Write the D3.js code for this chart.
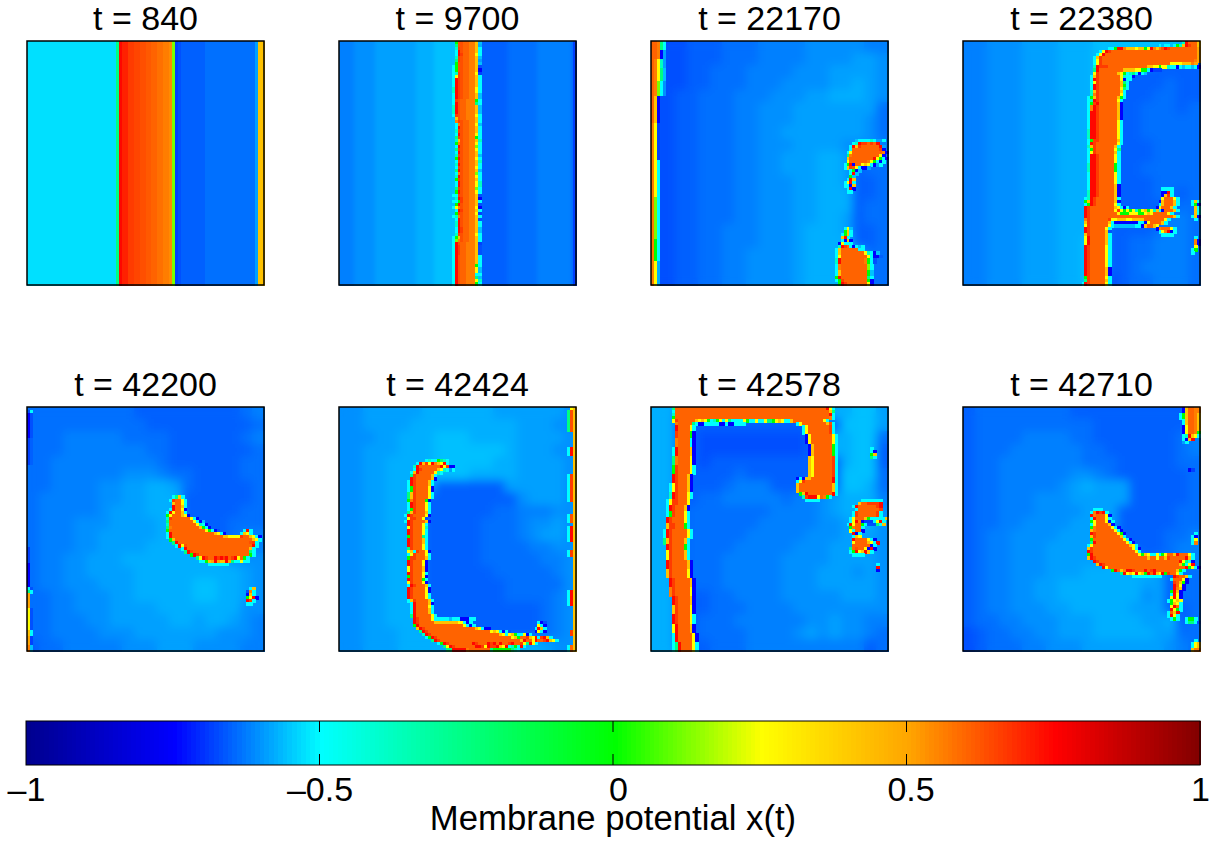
<!DOCTYPE html>
<html>
<head>
<meta charset="utf-8">
<script src="https://cdn.jsdelivr.net/npm/d3@7/dist/d3.min.js"></script>
<style>
  html, body { margin: 0; background: #fff; }
  text { font-family: "Liberation Sans", Arial, sans-serif; fill: #000; }
</style>
</head>
<body>
<svg id="chart" width="1214" height="843"></svg>
<script>
// Membrane potential snapshots on a 80 x 80 grid.
// Strings are run length coded: "3Oa" = O O O a. One letter = one level below.
const levelChars  = ['a','b','c','d','e','f','g','h','i','j','B','C','T','S','G','L','Y','A','P','K','Q','Z','O','X','M','W','N','V','R'];
const levelValues = [-.687,-.672,-.656,-.64,-.625,-.609,-.593,-.578,-.562,-.53,-.75,-.5,-.38,-.25,0,.12,.25,.42,.5,.54,.56,.58,.6,.615,.63,.645,.66,.7,.74];

const times = [840, 9700, 22170, 22380, 42200, 42424, 42578, 42710];
const colorStops  = [-1, -.75, -.5, 0, .25, .5, .75, 1];
const colorValues = ['#00008f','#0000ff','#00ffff','#00ff00','#ffff00','#ffa500','#ff0000','#800000'];
const barTicks = [-1, -.5, 0, .5, 1];
const barLabelShift = [0, 0, 5, 4, 0];

// backgrounds: rows of coarse blocks
const bg840 = ['30jSR2V2N2W2M2X2O2Z2QKLab8c17dg2A'];
const bg9700 = ['5e7f14g6h7i18c10d12ea'];
const bg22170 = [
  'bbbcccdddeeeefffffee','bbbcccdddeeeeffffggf','bbbccdddeeeefffggggf','bbbccdddeeeffffgghgf','bbccdddeeefffgghhhgf',
  'bbccdddeefffgggggggd','bbccdddeefffggggggfd','bbccdddeeffgggggggfd','bbccdddeefffggggfffe','bbccdddeeffggghhgddd',
  'bbccdddeeffggghhgcdd','bbccdddeefffgghhgccd','bbccdddeefffgghhhccd','bbccdddeefffgghhhcdd','bbccdddeefffgghhgcdd',
  'bbccddeeefffghhhgccd','bbccddeeefffghhhhccd','bbccddeeffffghhhhhdd','bbccddeeffffghhhhgdd','bbccddeeffffghhhhgdd'];
const bg22380 = [
  'eefffggghhhiiiiiiihh','eefffggghhhiiiiicccc','eefffggghhhicccccccc','eefffggghhhicccccdcc','eefffggghhhiccccddcc',
  'eefffggghhhicccdddcd','eefffggghhhicccddddd','eefffggghhhicccddddd','eefffggghhhiccccdddd','eefffggghhhiccccdddd',
  'eefffggghhhicccddddd','eefffggghhhiccccdddd','eefffggghhhiccccddcd','eefffggghhhiccccccdd','eefffggghhhiccccdeed',
  'eefffggghhhiccccdeed','eefffggghhiiccddeeed','eefffggghhiiccddeeed','eefffggghhiiccdeeeed','eefffggghhiibcddeeed'];
const bg42200 = [
  'dddddddddcccccccccde','ddddddddddcccccccccd','dddeeeeeddddccccccde','dddeeeeeeeddcccccccd','ddeeeeeeeeedccccccdd',
  'ddeeeeeefffeddccccdd','ddeeeeffgghhgdcccccd','deeeeeffgghhhccccccd','deeeeefggghhhcccccdd','deeefffgggghhccccddd',
  'deeeffggggghhhcccdee','deeeffgggghhhhhcddee','deeffggghhhhhhhhhfff','deeffgggghhhhhhhhhgf','deefffggghhhhhiihhgf',
  'ddeefffgghhhhhiihhgf','ddeefffgggghhhhhhhff','ddeeeffggggghhghhgfe','ddeeeefffgggggggfffe','cddeeeeefffgggffffee'];
const bg42424 = [
  'ffggggghhhhhhggggggf','ffgggghhhhhhhhhgggff','fffgghhhiiihhhhggggf','ffggghhhiiiiiihgggff','ffgghhhhiiiiihhggggf',
  'ffgghhhhiiihhhhggggf','ffgghhhhccccccgggggf','ffgghhhccccccccfgggf','ffgghhhccccccddeeeff','ffgghhhcccccdddeffgf',
  'ffgghhhcccccdddefggf','ffgghhhcccccddddeeff','ffgghhhcccccdddddeef','ffgghhhccccccdddddef','ffgghhhcccccccdddddf',
  'ffgghhhcccccccddddef','ffgghhhccccccccccdef','ffgghhhccccccccccdef','ffggghhhhhcccccccdef','ffggghhhhhhhhhhhhgff'];
const bg42578 = [
  'hhdddddddddddddhhiig','hhcccccccccccccciiig','hhccbbbbbbbbbcchhiid','hhccbbbbbbbbbcchhiic','hhccbccccccccccchiic',
  'hhcccccdcccccccciiid','hhccccdeeecccccciihd','hhccddeeeeedeefghhhe','hhcdddddddeeeefghhgf','hhcddddddeeeeeffghhf',
  'hhcdddddeeeeefffgggf','hhcddddeeeeefffggggf','hhcdddeeeeeffffggggf','hhcdddeeeeefffgggfgf','hhcdddeeeeefffgggggf',
  'hhcccddeeeefffffgggf','hhcccdddeeeeffffffff','hhccdddeeeeeeffgffee','hhccddddeeeefgfgffed','hhcccdddeeeeeeeeeecd'];
const bg42710 = [
  'cddddddddccccccccccd','cddddddddddccccccccd','cddddeeeeddcccccccde','cdddeeeeeeddccccccde','cddeeeeeeedddcccccdd',
  'cddeeeeeeffedccccccd','cddeeeeefghgggcccccd','cddeeefffgggggcccccd','cddeeeffffgggcccccdd','cddeeffffggggcccccdd',
  'cdeeffffggggcccccdde','cdeefffgggggcccccdee','cdeefffggggghhfcddee','cdeefffggghhhhhhgcdd','cdeeffgghhhhhhhggcdd',
  'cdeeffgghhhhhhhfgcdd','cdeefffgghhhhhgggccd','cddeefffggghhhhgghcd','bcddeeffggghhhhhggdd','bcdddeefffgggggggfed'];

// fronts: [first row, last row, first column, cells]
const front840 = [];
const front9700 = [
  [0,79,79,'a'],
  [0,0,38,'iG2M2O2QAi'],[1,1,38,'iS2M2O2QAh'],[2,2,38,'iTN1M2O2QAC'],[3,3,38,'iCRM2O2QAC'],[4,4,38,'iCRN2O2QYC'],
  [5,5,38,'iTNM2O2QAi'],[6,6,38,'iSNM2O2QAg'],[7,7,38,'iG2M2O2QAi'],[8,8,38,'CG2M2O2QAb'],[9,9,38,'CG2M2O2QAB'],
  [10,10,38,'CTN1M2O2QYa'],[11,11,38,'CYN1M2O2QAC'],[12,14,38,'CRN1M2O2QAC'],[15,16,38,'TRN1M2O2QYC'],[17,18,38,'CRN1M2O2QAi'],
  [19,19,38,'CNM2O3QGC'],[20,20,38,'CRM2O3QSC'],[21,23,38,'TRM2O3QAi'],[24,24,38,'CNM2O3QYC'],[25,25,38,'iAM2O3QAC'],
  [26,26,38,'iQNM2O2QAC'],[27,27,38,'iCQM2O2QYi'],[28,28,38,'iCRM2O2QAC'],[29,29,38,'iTNM2O2QAC'],[30,30,38,'iCRM2O2QYC'],
  [31,31,38,'iSNM2O2QGC'],[32,32,38,'iTAM2O2QAT'],[33,33,38,'iGQM2O2QYC'],[34,34,38,'iCRM2O2QLC'],[35,35,38,'iSNM2O2QYC'],
  [36,36,38,'iCRM2O2QAC'],[37,37,38,'iTNM2O2QAi'],[38,38,38,'iGRM2O2QYC'],[39,39,38,'iCNM2O2QAT'],[40,40,38,'iTRM2O2QAC'],
  [41,41,38,'iCNM2O2QYC'],[42,42,38,'iSRM2O2QAi'],[43,43,38,'iCQM2O2QLC'],[44,44,38,'iTRM2O2QYC'],[45,45,38,'iGNM2O2QAC'],
  [46,47,38,'iCRM2O2QYT'],[48,48,38,'iSNM2O2QLC'],[49,49,38,'iGRM2O2QYC'],[50,50,38,'CCNM2O2QAb'],[51,51,38,'iTRN2O2QAB'],
  [52,52,38,'CCGN2O2QAC'],[53,53,38,'iGRM2O2QAb'],[54,54,38,'CYQM2O2QYB'],[55,55,38,'iCRN2O2QAC'],[56,56,38,'iGNM2O2QYa'],
  [57,57,38,'CTQM2O2QAC'],[58,58,38,'iCRM2O2QAb'],[59,60,38,'iTRM2O2QAC'],[61,62,38,'iCRN2O2QAi'],[63,63,38,'iTNM2O2QYC'],
  [64,64,38,'CGAM2O2QAC'],[65,65,38,'CLQM2O2QAC'],[66,66,38,'CRM2O3QAa'],[67,69,38,'CRN2O3QAb'],[70,72,38,'CRM2O3QAC'],
  [73,73,38,'CRM2O3QGC'],[74,75,38,'CRM2O3QYi'],[76,76,38,'CRM2O3QCC'],[77,77,38,'CRM2O3QSi'],[78,78,38,'CRM2O3QYT'],[79,79,38,'CRM2O3QGC']
];
const front22170 = [
  [0,2,0,'2OQSC'],[3,5,0,'2OQBg'],[6,8,0,'OQYTg'],[9,12,0,'OQYSi'],[13,17,0,'OQLCf'],
  [18,26,0,'OAB'],[27,38,0,'QYa'],[39,50,0,'QYC'],[51,64,0,'QLC'],[65,71,0,'QGC'],[72,79,0,'QYh'],
  [32,32,69,'i4CTC2gC'],[33,33,68,'CTR2NONOR'],[34,34,67,'CRAN6ORg'],[35,35,67,'C9ONB'],[36,36,66,'CY10OQB'],
  [37,37,66,'SQ9OYB'],[38,38,66,'A8ORYGCB'],[39,39,66,'Y6OQYGCBC'],[40,40,65,'CGRB2OYAYCBgC'],[41,41,65,'CANMYCBBg'],
  [42,42,67,'CGBi'],[43,43,67,'CRi'],[44,44,67,'Gi'],[45,45,66,'CRA'],[46,46,65,'CYRC'],[47,47,65,'CCBA'],[48,48,66,'CRB'],[49,49,66,'CC'],
  [61,61,65,'CYi'],[62,62,65,'GAC'],[63,63,64,'CGAC'],[64,64,64,'ARC'],[65,65,64,'CBAB'],[66,66,63,'BYCCC'],
  [67,67,63,'TRNOCBCiC'],[68,68,62,'CA6OCC'],[69,69,62,'CA8OYTCBi'],[70,70,62,'CY9OYC2Bc'],[71,72,62,'TR8OQGCb'],
  [73,74,62,'CQ9OLC'],[75,76,62,'CA9OGi'],[77,77,62,'GR9OSC'],[78,78,62,'CGN8OGB'],[79,79,63,'GRN7OYB']
];
const front22380 = [
  [0,0,74,'TR3OA'],[1,1,66,'CiCCiCGTARNOOA'],[2,2,49,'CCGRRQ3AY2AGYRQAQMRN9OP'],[3,3,46,'CYRN29OP'],[4,4,45,'CYR31OP'],
  [5,5,44,'CAN32OP'],[6,6,44,'CYN31OQP'],[7,7,44,'CYN23O4Y3AQP'],[8,8,44,'TR3N13O2A2YG2YTCCBCiCCiCBC'],[9,9,44,'SR8O4A2Y2GCB3a'],
  [10,10,44,'YN6OAYGCTSCBCi'],[11,11,43,'CAN7OYTCCB'],[12,12,43,'CRN7OYBCC'],[13,13,43,'CYN7OASC'],[14,14,43,'CRN7OAGC'],
  [15,15,43,'CRN7OYSC'],[16,16,43,'TAN7OAC'],[17,17,43,'TQN7OYC'],[18,18,42,'CGAN6OAGC'],[19,19,42,'CTRN6OYC'],
  [20,20,42,'CGNR6OAB'],[21,22,42,'CQRN6OAB'],[23,25,42,'CRRN6OAB'],[26,28,42,'CRRN6OYC'],[29,31,42,'TRRN6OYC'],
  [32,32,42,'CG2N6OAC'],[33,33,42,'CRN7OYC'],[34,34,42,'TAN6OAC'],[35,35,42,'CGN6OYS'],[36,36,42,'CYN6OAC'],
  [37,39,42,'CRRN5OYC'],[40,42,42,'TRRN5OGC'],[43,46,42,'CRRN5OYC'],[47,48,42,'CRRN5OAB'],[49,50,42,'TRRN5OAB'],
  [51,51,41,'CTRN6OAC'],[52,52,41,'GARN6OAB'],[53,53,41,'CGRN6OYC'],
  [49,49,67,'BBRC'],[48,48,67,'4C'],[50,50,67,'BANC'],[51,51,67,'Y3OYC'],[52,52,66,'BA3OAC'],[53,53,66,'CA3OAC'],
  [54,54,41,'RN8OAYCBC'],[54,54,65,'BY3OAC'],[55,55,41,'RN8OYNYGYGYTGYAGYTACB3OAC'],[56,56,41,'RN9OY3G3Y2GYAY5OYC'],
  [57,57,41,'RN28OAC'],[58,58,41,'QN6ON2Y3A2Y4A7OYC'],[59,59,41,'AN6OACB7B2CBY4OAC'],[60,60,41,'YN6OYC7iCCBAOOAY'],
  [61,61,41,'RN5OYC'],[61,61,65,'BQ3OYC'],[62,62,41,'RN5OAb'],[62,62,66,'CYQRBC'],[63,63,41,'AN5OAC'],[63,63,67,'CCCC'],
  [64,66,41,'YR5OAC'],[67,70,41,'RN5OYC'],[71,73,41,'RN5OYC'],[74,75,41,'RN5OAB'],[76,76,41,'RN5OAB'],[77,77,41,'GN5OYC'],[78,78,41,'SN5OAC'],[79,79,40,'CRN5OYC'],
  [52,52,77,'CAC'],[53,53,77,'CGB'],[54,56,78,'AC'],[57,57,77,'CAB'],[58,58,78,'C'],[64,64,78,'C'],[65,66,78,'QB'],[67,67,78,'Y'],[68,68,77,'CG'],[69,69,77,'C']
];
const front42200 = [
  [1,1,0,'bC'],[2,9,0,'Bb'],[10,18,0,'ac'],[46,50,0,'a'],[51,58,0,'B'],[59,59,0,'Cb'],[60,60,0,'SC'],
  [61,65,0,'P'],[66,72,0,'Yb'],[73,74,0,'AC'],[75,77,0,'Pa'],[78,79,0,'Qi'],
  [29,29,49,'CSAC'],[30,30,48,'CN2OYC'],[31,31,49,'A2OYC'],[32,32,49,'R2OAC'],[33,33,48,'CR2OYB'],[34,34,47,'CRY2OAC'],
  [35,35,47,'GY3OAYB'],[36,36,47,'TN6OYCB'],[37,37,47,'SO7OYCBi'],[38,38,47,'TO8OYTCB'],[39,39,47,'SQ9OAGCB'],
  [40,40,47,'GO11OYGCBb'],[40,40,73,'CRC'],[41,41,47,'CR14OAYCB'],[41,41,72,'CAYC'],[42,42,47,'CR17O2A4YN2OAYCB'],
  [43,43,48,'GA26OAYC'],[44,44,49,'SR24OMNC'],[45,45,50,'CRYM22ORC'],[46,46,52,'CR21OAC'],[47,47,53,'SRM19OSC'],
  [48,48,55,'GRN17OGC'],[49,49,57,'SYRN2ORNRNRONRYOGC'],[50,50,58,'CCGAPRPAARPSCCYCC'],[51,51,61,'7C'],
  [59,59,75,'CA'],[60,60,74,'bQC'],[61,61,74,'BAC'],[62,62,74,'GYRB'],[63,63,74,'RNC'],[64,64,74,'CC']
];
const front42424 = [
  [0,0,78,'YA'],[1,7,77,'SMA'],[8,12,79,'A'],[13,15,77,'CRA'],[16,21,79,'A'],[22,30,77,'CNA'],[31,34,79,'A'],[35,37,77,'CMA'],[38,38,79,'A'],
  [39,43,77,'CRA'],[44,46,79,'A'],[47,48,77,'CNA'],[49,59,79,'A'],[60,64,77,'CRA'],[65,72,79,'A'],[73,74,78,'NA'],[75,77,79,'A'],[78,79,77,'COA'],
  [17,17,29,'CTCCGSTC'],[18,18,26,'CRANYRQAYRC'],[19,19,25,'TR7ORYNBB'],[20,20,25,'CRN5OAYTCgC'],[21,21,24,'CAR5OYTC'],[22,22,24,'SN5OAC'],[23,23,24,'RN5OAB'],
  [24,25,23,'CRN4OAC'],[26,27,23,'CGN4OYB'],[28,29,23,'SAN4OYC'],[30,30,23,'GQN3OGB'],[31,32,23,'CRN3OYC'],[33,33,23,'CGN3OYC'],[34,34,23,'SAN3OAC'],
  [35,35,22,'CRN4OYB'],[36,36,23,'YNN2OYb'],[37,37,22,'CRN4OAB'],[38,38,23,'RN3OYC'],[39,39,23,'YN3OYT'],[40,41,23,'RN3OYC'],[42,42,23,'GN3OSC'],
  [43,44,23,'RN3OAC'],[45,45,23,'RN3OYC'],[46,46,23,'SN3OYC'],[47,47,23,'YACN2OYB'],[48,48,23,'CYN3OYC'],[49,49,23,'GNN3OAC'],[50,51,23,'RN3OYB'],
  [52,53,23,'YN3OAB'],[54,54,23,'RN3OYC'],[55,55,23,'GN3OYB'],[56,56,23,'RN3OGC'],[57,57,23,'YN3OYB'],[58,58,23,'CRN3OAC'],[59,60,23,'RN4OYB'],
  [61,62,23,'RN4OYC'],[63,63,23,'CAN4OAC'],[64,64,24,'CR4OAB'],[65,65,24,'CR4OYC'],[66,67,24,'CR4OAC'],[68,68,24,'SR5OYC'],[69,69,25,'RN4OYC4CiC2C3BCC'],
  [70,70,25,'RN5O8AYYCBC'],[70,70,67,'CBb'],[71,71,25,'GR15OYCBC'],[71,71,67,'YCB'],[72,72,26,'ARN17OAYCBB'],[72,72,66,'CRAC'],
  [73,73,27,'SRN21OYAYCBCb'],[73,73,66,'BYCB'],[74,74,28,'TRN23OAYCYAGCCYBC'],[75,75,29,'CGRN25OYAG2ONAYRCNRAC'],[76,76,31,'SRN27OAR2OYR2ONRAYC'],
  [77,77,33,'CGRN8ORN3ORNROR2ONR2ONYSRYC'],[78,78,35,'SYRN7O2RNYR2NRAYRCTGCRC'],[79,79,36,'SS5RQ7OS6GSTC']
];
const front42578 = [
  [0,0,7,'S51ORYC'],[1,1,7,'C52OAS'],[2,2,7,'T52ORC'],[3,3,7,'G52OQC'],
  [4,4,7,'YN6OAYAYGCTGYCYSCCCCYGCCYCCYSSGYAYCCA10OYC'],[5,5,8,'Q5OSCC'],[5,5,16,'BBCCCCCBBCBBCCCC'],[5,5,49,'CY8OAMC'],
  [6,7,8,'R4OYC'],[8,9,8,'N4OGB'],[10,12,8,'Q4OCB'],[13,15,7,'CR4OAB'],[16,18,7,'SQ4OYB'],[19,21,7,'GN4OYC'],
  [6,8,51,'CY7ONC'],[9,11,52,'BY7OYC'],[12,15,53,'BA6OGC'],[16,22,53,'AY6ONC'],
  [22,24,7,'RN3OAB'],[25,27,6,'CYN3OAB'],[28,29,6,'TRN3OYC'],[30,31,5,'CYNN3OY'],[32,33,5,'CRN3OAB'],[34,35,5,'CGN3OYC'],
  [23,23,49,'BCB2A7ORC'],[24,24,49,'CYN9ORC'],[25,27,49,'A11OAC'],[28,28,50,'GAR8ORC'],[29,29,51,'TN3RYOQGC'],[30,30,52,'5C'],
  [36,37,5,'RN4OYC'],[38,39,5,'ANN3OGC'],[40,42,4,'CRN5OYC'],[43,44,4,'SAN4OAC'],[45,46,5,'RN4OGC'],[47,49,5,'YN4OAC'],
  [50,52,5,'RN5OAB'],[53,55,5,'AN5OYB'],[56,58,6,'RN5OAB'],[59,61,6,'QN5OYB'],[62,64,7,'RN4OAB'],[65,67,7,'AN4OYB'],
  [68,70,7,'RN4OYC'],[71,73,7,'YR4OAB'],[74,76,7,'CR5OYB'],[77,79,7,'CSR4OYC'],
  [30,30,71,'7C'],[31,31,70,'A2O4NR'],[32,32,68,'CR6ONR'],[33,33,69,'C7ON'],[34,35,68,'CN6ONC'],[36,36,67,'CY3OAGC4CAC'],[37,37,67,'CYRQB3aCYRC'],
  [38,38,66,'CRY2OGC3bSCA'],[39,39,67,'GQ2OC'],[40,40,67,'YC2OB'],[41,41,68,'RBC'],[42,42,68,'CAY'],[43,43,68,'R4OYCB'],[44,44,68,'Y4OAYCR'],
  [45,45,68,'6OBC'],[46,46,67,'SOM2OYBRB'],[47,47,67,'CGRYARAC'],[48,48,68,'4C'],
  [13,13,74,'C'],[14,14,74,'CB'],[15,15,74,'GA'],[16,16,74,'SC'],[51,51,76,'C'],[52,52,76,'R'],[53,53,76,'B']
];
const front42710 = [
  [0,1,74,'BA2O2QA'],[2,3,73,'CGA2OQA'],[4,5,74,'CA2OQA'],[6,7,74,'BY2OQA'],[8,8,74,'BY2OQG'],[9,9,74,'CTRAYC'],[10,10,74,'CBAR'],[11,11,74,'gC'],
  [20,20,76,'Ba'],[41,41,78,'C'],[42,42,77,'CB'],[43,43,77,'CY'],[44,44,77,'CQ'],[76,76,78,'C'],[77,78,77,'CYA'],[79,79,77,'A2Q'],
  [33,33,44,'CCC'],[34,34,43,'CQRNRC'],[35,35,43,'RQ3OYB'],[36,36,43,'CR3OYC'],[37,37,43,'GY3OYBC'],[38,38,43,'CY4OAB'],[39,39,43,'GQ5OYCB'],
  [40,40,43,'AQ6OYCB'],[41,41,43,'RN7OYGB'],[42,42,43,'AN8OAC'],[43,43,43,'GO9OYCB'],[44,44,43,'SR10OYCB'],[45,45,42,'CY12OAYC'],[46,46,42,'AN13OYCB'],
  [47,47,42,'RN14OYC'],[48,48,42,'GR15OYGAYCCYCGY2OAR3OYC'],[49,49,42,'ARN17OA2OY2OAN5ORAC'],[50,50,44,'RN27ORYSCB'],[51,51,45,'ARN25OAGCYR'],
  [52,52,47,'RY26ORGYCB'],[53,53,50,'GROAQ2RN3ORONR7OAGC'],[54,54,53,'SRYAYRYAGRORAYRGN2OYC'],[55,55,57,'10C'],[55,55,71,'RN2OAC'],
  [56,56,70,'C3OYB'],[57,57,71,'NOAGB'],[58,58,71,'ROYB'],[59,59,71,'RQAB'],[60,60,70,'GRAB'],[61,61,70,'CRYB'],[62,62,70,'YRYB'],[63,63,69,'CGYAY'],
  [64,64,70,'GAYC'],[65,65,70,'YROC'],[66,66,70,'RYGC'],[67,67,69,'COAR'],[68,68,69,'CRYC'],[69,69,70,'CGC'],[69,69,75,'CGGC'],[70,70,75,'C2SCb']
];

const backgrounds = [bg840, bg9700, bg22170, bg22380, bg42200, bg42424, bg42578, bg42710];
const fronts = [front840, front9700, front22170, front22380, front42200, front42424, front42578, front42710];

const gridSize = 80;
const panelW = 237, panelH = 244;
const panelLeft = [27, 339, 651, 963];
const panelTop = [41, 407];
const bgSoften = [0, 2, 5, 5, 5, 5, 5, 5]; // the potential varies smoothly away from the front

const svg = d3.select('#chart');
const defs = svg.append('defs');
const color = d3.scaleLinear().domain(colorStops).range(colorValues);
const levelOf = new Map(levelChars.map((c, i) => [c, levelValues[i]]));

function unpack(s) {
  const out = [];
  for (const m of s.matchAll(/(\d*)(\D)/g)) {
    const n = m[1] === '' ? 1 : +m[1];
    for (let i = 0; i < n; i++) out.push(m[2]);
  }
  return out;
}

times.forEach((t, p) => {
  const g = svg.append('g')
    .attr('transform', `translate(${panelLeft[p % 4]},${panelTop[p < 4 ? 0 : 1]})`);

  defs.append('clipPath').attr('id', 'clip' + p)
    .append('rect').attr('width', panelW).attr('height', panelH);
  defs.append('filter').attr('id', 'soft' + p)
    .attr('x', '-10%').attr('y', '-10%').attr('width', '120%').attr('height', '120%')
    .append('feGaussianBlur').attr('stdDeviation', bgSoften[p]);

  // coarse background blocks
  const bgRows = backgrounds[p].map(unpack);
  const bgY = d3.scaleBand().domain(d3.range(bgRows.length)).range([0, panelH]);
  const bgX = d3.scaleBand().domain(d3.range(bgRows[0].length)).range([0, panelW]);
  const bgCells = bgRows.flatMap((row, r) => row.map((c, k) => ({ r, k, c })));

  const drawBg = sel => sel.selectAll('rect').data(bgCells).join('rect')
    .attr('x', d => bgX(d.k))
    .attr('y', d => bgY(d.r))
    .attr('width', bgX.bandwidth() + .5)
    .attr('height', bgY.bandwidth() + .5)
    .attr('fill', d => color(levelOf.get(d.c)));

  drawBg(g.append('g').attr('shape-rendering', 'crispEdges'));
  if (bgSoften[p] > 0) {
    g.append('g').attr('clip-path', `url(#clip${p})`)
      .append('g').attr('filter', `url(#soft${p})`).attr('shape-rendering', 'crispEdges')
      .call(drawBg);
  }

  // wave front cells on the fine grid
  const x = d3.scaleLinear().domain([0, gridSize]).range([0, panelW]);
  const y = d3.scaleLinear().domain([0, gridSize]).range([0, panelH]);
  const cells = [];
  fronts[p].forEach(([r0, r1, col, s]) => {
    const row = unpack(s);
    for (let r = r0; r <= r1; r++) {
      row.forEach((c, k) => {
        if (col + k < gridSize) cells.push({ r, k: col + k, c });
      });
    }
  });
  g.append('g').attr('shape-rendering', 'crispEdges')
    .selectAll('rect').data(cells).join('rect')
    .attr('x', d => x(d.k))
    .attr('y', d => y(d.r))
    .attr('width', x(1) + .5)
    .attr('height', y(1) + .5)
    .attr('fill', d => color(levelOf.get(d.c)));

  g.append('rect')
    .attr('width', panelW).attr('height', panelH)
    .attr('fill', 'none').attr('stroke', '#000').attr('stroke-width', 1.5);

  g.append('text')
    .attr('x', panelW / 2).attr('y', -11)
    .attr('text-anchor', 'middle')
    .style('font-size', '34px')
    .text('t = ' + t);
});

// colorbar
const barX = d3.scaleLinear().domain([-1, 1]).range([26, 1200]);
const barTop = 721, barH = 44;
const barSteps = d3.range(-1, 1, 2 / 256);
svg.append('g').attr('shape-rendering', 'crispEdges')
  .selectAll('rect').data(barSteps).join('rect')
  .attr('x', d => barX(d))
  .attr('y', barTop)
  .attr('width', barX(-1 + 2 / 256) - barX(-1) + .6)
  .attr('height', barH)
  .attr('fill', d => color(d));

const fmt = d => String(d).replace('-', '\u2013');
const axis = svg.append('g')
  .attr('transform', `translate(0,${barTop + barH})`)
  .call(d3.axisBottom(barX).tickValues(barTicks).tickSize(0).tickPadding(12).tickFormat(fmt));
axis.select('.domain').remove();
axis.selectAll('text')
  .style('font-size', '34px')
  .attr('fill', '#000')
  .attr('dx', (d, i) => barLabelShift[i]);

// inner tick marks, top and bottom
const innerTicks = barTicks.slice(1, -1);
svg.append('g').selectAll('line').data(innerTicks).join('line')
  .attr('x1', d => barX(d)).attr('x2', d => barX(d))
  .attr('y1', barTop).attr('y2', barTop + 11)
  .attr('stroke', '#000');
svg.append('g').selectAll('line').data(innerTicks).join('line')
  .attr('x1', d => barX(d)).attr('x2', d => barX(d))
  .attr('y1', barTop + barH - 11).attr('y2', barTop + barH)
  .attr('stroke', '#000');
svg.append('rect')
  .attr('x', barX(-1)).attr('y', barTop)
  .attr('width', barX(1) - barX(-1)).attr('height', barH)
  .attr('fill', 'none').attr('stroke', '#000').attr('stroke-width', 1);

svg.append('text')
  .attr('x', 613).attr('y', 830)
  .attr('text-anchor', 'middle')
  .style('font-size', '34.7px')
  .text('Membrane potential x(t)');
</script>
</body>
</html>
